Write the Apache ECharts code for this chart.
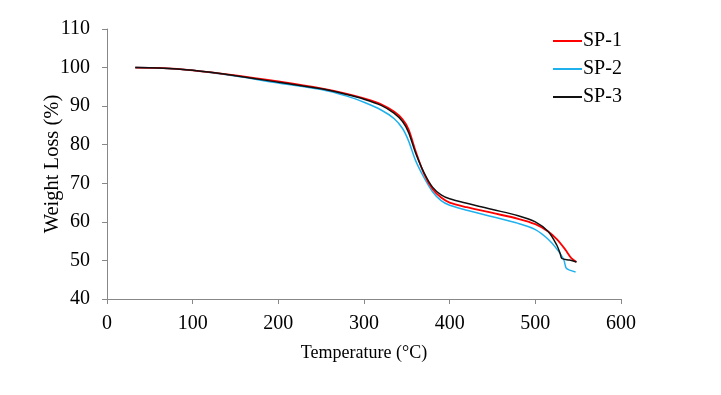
<!DOCTYPE html>
<html>
<head>
<meta charset="utf-8">
<script src="https://cdn.jsdelivr.net/npm/echarts@6/dist/echarts.min.js"></script>
<style>
  html, body { margin: 0; padding: 0; background: #fff; }
  #chart { width: 721px; height: 395px; }
</style>
</head>
<body>
<div id="chart"></div>
<script>
// TGA curves
var temp1 = [33, 60, 100, 150, 200, 250, 280, 300, 320, 335, 345, 352, 360, 370, 380, 390, 400, 420, 450, 480, 500, 515, 525, 535, 542, 548];
var sp1 = [100.0, 99.9, 99.3, 98.0, 96.4, 94.6, 93.2, 92.0, 90.5, 88.6, 86.6, 84.0, 78.5, 72.5, 68.5, 66.3, 65.0, 63.8, 62.3, 60.8, 59.4, 57.5, 55.5, 52.8, 50.6, 49.6];

var temp2 = [33, 60, 100, 150, 200, 250, 280, 300, 320, 335, 345, 352, 360, 370, 380, 390, 400, 420, 450, 480, 500, 515, 525, 533, 536, 540, 547];
var sp2 = [100.0, 99.9, 99.3, 97.8, 96.0, 94.3, 92.6, 91.0, 89.0, 86.8, 84.2, 81.0, 76.0, 71.5, 67.8, 65.5, 64.3, 63.0, 61.3, 59.6, 58.0, 55.5, 53.0, 50.3, 48.0, 47.5, 47.0];

var temp3 = [33, 60, 100, 150, 200, 250, 280, 300, 320, 335, 345, 352, 360, 370, 380, 390, 400, 420, 450, 480, 500, 515, 525, 529, 531, 540, 548];
var sp3 = [100.0, 99.9, 99.3, 97.9, 96.2, 94.5, 93.0, 91.8, 90.2, 88.2, 86.0, 83.2, 78.0, 72.8, 69.0, 67.0, 66.0, 64.8, 63.2, 61.6, 60.0, 57.5, 54.0, 51.8, 50.5, 50.1, 49.6];

var xTicks = [0, 600, 100];
var yTicks = [40, 110, 10];

function pairs(xs, ys) {
  return xs.map(function (x, i) { return [x, ys[i]]; });
}

var chart = echarts.init(document.getElementById("chart"));
var font = "Liberation Serif";
var axisColor = "#888";

chart.setOption({
  animation: false,
  grid: { left: 107, right: 100, top: 29, bottom: 96 },
  legend: {
    orient: "vertical",
    left: 548,
    top: 26,
    icon: "rect",
    itemWidth: 29,
    itemHeight: 2,
    itemGap: 8,
    textStyle: { fontFamily: font, fontSize: 20, color: "#000", padding: [0, 0, 0, -4] },
    data: ["SP-1", "SP-2", "SP-3"]
  },
  xAxis: {
    type: "value",
    min: xTicks[0],
    max: xTicks[1],
    interval: xTicks[2],
    name: "Temperature (°C)",
    nameLocation: "middle",
    nameGap: 45,
    nameMoveOverlap: false,
    nameTextStyle: { fontFamily: font, fontSize: 18, color: "#000" },
    axisLine: { lineStyle: { color: axisColor, width: 1 } },
    axisTick: { show: true, length: 5, lineStyle: { color: axisColor } },
    axisLabel: { fontFamily: font, fontSize: 20, color: "#000", margin: 15 },
    splitLine: { show: false }
  },
  yAxis: {
    type: "value",
    min: yTicks[0],
    max: yTicks[1],
    interval: yTicks[2],
    name: "Weight Loss (%)",
    nameLocation: "middle",
    nameGap: 44,
    nameMoveOverlap: false,
    nameTextStyle: { fontFamily: font, fontSize: 20.5, color: "#000" },
    axisLine: { show: true, lineStyle: { color: axisColor, width: 1 } },
    axisTick: { show: true, length: 5, lineStyle: { color: axisColor } },
    axisLabel: { fontFamily: font, fontSize: 20, color: "#000", margin: 17 },
    splitLine: { show: false }
  },
  series: [
    {
      name: "SP-1",
      type: "line",
      data: pairs(temp1, sp1),
      smooth: 0.3,
      symbol: "none",
      lineStyle: { color: "#ff0000", width: 1.8 },
      itemStyle: { color: "#ff0000" },
      z: 2
    },
    {
      name: "SP-2",
      type: "line",
      data: pairs(temp2, sp2),
      smooth: 0.3,
      symbol: "none",
      lineStyle: { color: "#1fb0ee", width: 1.5 },
      itemStyle: { color: "#1fb0ee" },
      z: 1
    },
    {
      name: "SP-3",
      type: "line",
      data: pairs(temp3, sp3),
      smooth: 0.3,
      symbol: "none",
      lineStyle: { color: "#111111", width: 1.5 },
      itemStyle: { color: "#111111" },
      z: 3
    }
  ]
});
</script>
</body>
</html>
